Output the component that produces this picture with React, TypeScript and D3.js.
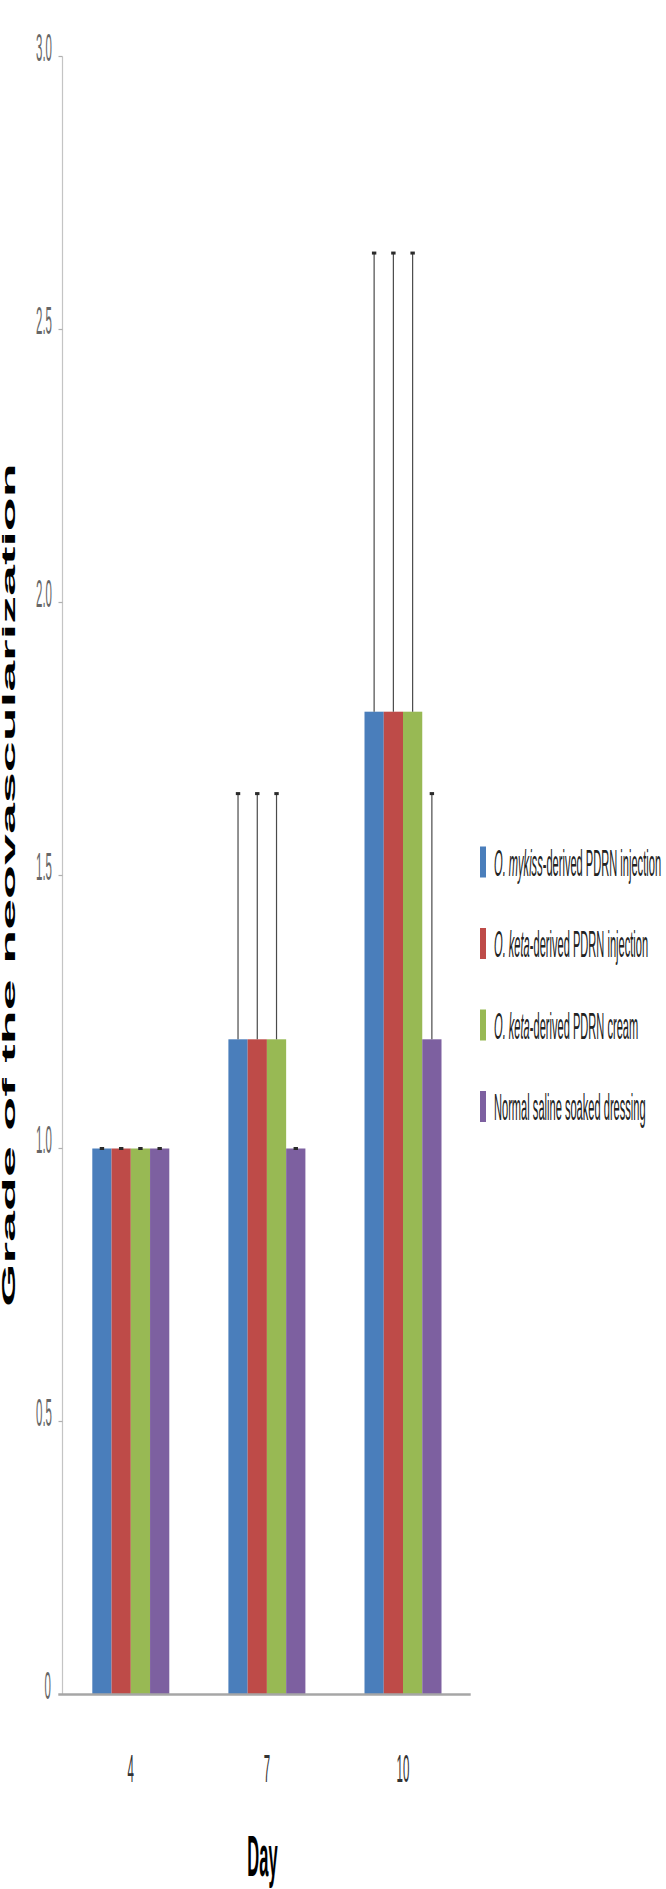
import React from 'react';
import * as d3 from 'd3';

const days = ['4', '7', '10'];
const seriesNames = [
  'O. mykiss-derived PDRN injection',
  'O. keta-derived PDRN injection',
  'O. keta-derived PDRN cream',
  'Normal saline soaked dressing',
];
const legendItalic = ['O. mykiss', 'O. keta', 'O. keta', ''];
const legendRest = ['-derived PDRN injection', '-derived PDRN injection', '-derived PDRN cream', 'Normal saline soaked dressing'];
const seriesColors = ['#4a7ebb', '#be4b48', '#98b954', '#7d60a0'];

const omykissInjection = [1.0, 1.2, 1.8];
const ketaInjection = [1.0, 1.2, 1.8];
const ketaCream = [1.0, 1.2, 1.8];
const salineDressing = [1.0, 1.0, 1.2];
const omykissInjectionSD = [0, 0.45, 0.84];
const ketaInjectionSD = [0, 0.45, 0.84];
const ketaCreamSD = [0, 0.45, 0.84];
const salineDressingSD = [0, 0, 0.45];

const yTicks = [0, 0.5, 1.0, 1.5, 2.0, 2.5, 3.0];
const yTickLabels = ['0', '0.5', '1.0', '1.5', '2.0', '2.5', '3.0'];

const values = [omykissInjection, ketaInjection, ketaCream, salineDressing];
const sds = [omykissInjectionSD, ketaInjectionSD, ketaCreamSD, salineDressingSD];

const W = 666;
const H = 1889;
const STRETCH = 3.3;
const FONT = '"Liberation Sans", Arial, Helvetica, sans-serif';

export default function App() {
  const y = d3.scaleLinear().domain([0, 3]).range([1694.5, 56.5]);
  const xCenter = d3.scalePoint<string>().domain(days).range([130.8, 403]);
  const xInner = d3.scaleBand<number>().domain([0, 1, 2, 3]).range([-38.5, 38.5]).padding(0);
  const axisX = 62.5;

  return (
    <svg width={W} height={H} style={{ position: 'absolute', left: 0, top: 0, background: '#fff' }}
      xmlns="http://www.w3.org/2000/svg">
      {/* y axis */}
      <line x1={axisX} x2={axisX} y1={y(3)} y2={y(0)} stroke="#c4c4c4" strokeWidth={1.2} />
      {yTicks.map((t, i) => (
        <g key={t}>
          {t > 0 && <line x1={axisX - 4} x2={axisX} y1={y(t)} y2={y(t)} stroke="#b0b0b0" strokeWidth={1.2} />}
          <text
            transform={`translate(${t === 0 ? 51 : 52},${y(t) + 4}) scale(1,${STRETCH})`}
            textAnchor="end"
            fontFamily={FONT}
            fontSize={11.5}
            fill="#666"
          >
            {yTickLabels[i]}
          </text>
        </g>
      ))}

      {/* bars */}
      {days.map((d, di) => (
        <g key={d}>
          {values.map((vals, si) => {
            const x0 = (xCenter(d) as number) + (xInner(si) as number);
            const bw = xInner.bandwidth();
            return (
              <rect key={si} x={x0} y={y(vals[di])} width={bw} height={y(0) - y(vals[di])}
                fill={seriesColors[si]} />
            );
          })}
        </g>
      ))}

      {/* error bars */}
      {days.map((d, di) => (
        <g key={'e' + d}>
          {values.map((vals, si) => {
            const cx = (xCenter(d) as number) + (xInner(si) as number) + xInner.bandwidth() / 2;
            const top = y(vals[di] + sds[si][di]);
            const base = y(vals[di]);
            return (
              <g key={si}>
                {sds[si][di] > 0 && (
                  <line x1={cx} x2={cx} y1={base} y2={top} stroke="#4a4a4a" strokeWidth={1.2} />
                )}
                <rect x={cx - 2.2} y={top - 1.5} width={4.4} height={3} fill="#2a2a2a" />
              </g>
            );
          })}
        </g>
      ))}

      {/* baseline */}
      <line x1={58.3} x2={470.7} y1={y(0)} y2={y(0)} stroke="#a6a6a6" strokeWidth={2.5} />

      {/* x tick labels */}
      {days.map((d) => (
        <text key={'xl' + d}
          transform={`translate(${xCenter(d)},${1782}) scale(1,${STRETCH})`}
          textAnchor="middle" fontFamily={FONT} fontSize={11.5} fill="#333">
          {d}
        </text>
      ))}

      {/* x axis title */}
      <text transform={`translate(262.5,1876) scale(1,3.5)`} textAnchor="middle"
        fontFamily={FONT} fontWeight="bold" fontSize={16.5} fill="#000">
        Day
      </text>

      {/* y axis title */}
      <text transform={`translate(15,885) rotate(-90) scale(3.09,1)`} textAnchor="middle"
        fontFamily={FONT} fontWeight="900" fontSize={18} fill="#000">
        Grade of the neovascularization
      </text>

      {/* legend */}
      {seriesNames.map((name, i) => {
        const cy = 862 + i * 81.5;
        return (
          <g key={name}>
            <rect x={480} y={cy - 15.5} width={6} height={31} fill={seriesColors[i]} />
            <text transform={`translate(494,${cy + 13.5}) scale(1,${STRETCH})`}
              fontFamily={FONT} fontSize={11.1} fill="#222">
              {legendItalic[i] && <tspan fontStyle="italic">{legendItalic[i]}</tspan>}
              <tspan>{legendRest[i]}</tspan>
            </text>
          </g>
        );
      })}
    </svg>
  );
}
